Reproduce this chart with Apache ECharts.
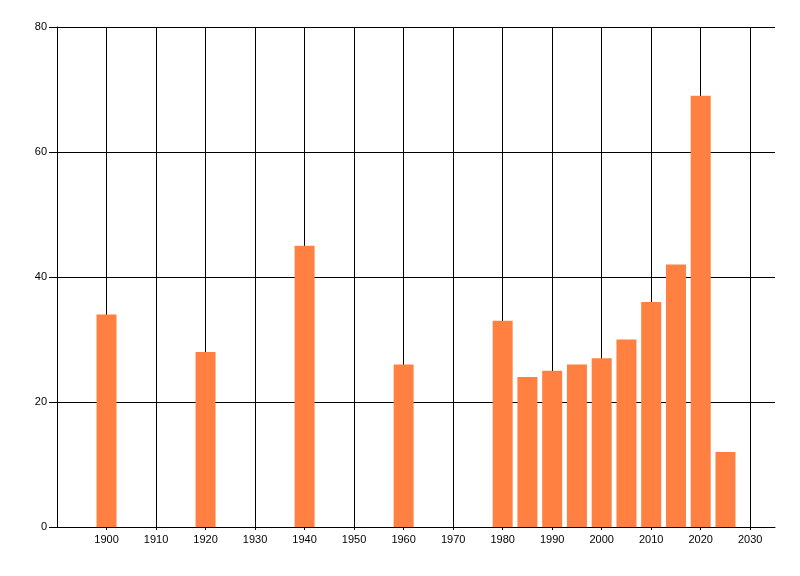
<!DOCTYPE html>
<html>
<head>
<meta charset="utf-8">
<script src="https://cdn.jsdelivr.net/npm/echarts@6/dist/echarts.min.js"></script>
<style>html,body{margin:0;padding:0;background:#fff}#c{width:800px;height:576px}</style>
</head>
<body>
<div id="c"></div>
<script>
var years = [1900, 1920, 1940, 1960, 1980, 1985, 1990, 1995, 2000, 2005, 2010, 2015, 2020, 2025];
var values = [34, 28, 45, 26, 33, 24, 25, 26, 27, 30, 36, 42, 69, 12];
var yTicks = [0, 20, 40, 60, 80];

var data = years.map(function (y, i) { return [y, values[i]]; });
var chart = echarts.init(document.getElementById('c'));
chart.setOption({
  animation: false,
  backgroundColor: '#fff',
  grid: { left: 57, right: 25, top: 27, bottom: 49, containLabel: false },
  xAxis: {
    type: 'value', min: 1890, max: 2035, interval: 10,
    axisLine: { show: true, lineStyle: { color: '#000', width: 1 } },
    axisTick: { show: true, length: 3, lineStyle: { color: '#000' } },
    axisLabel: {
      color: '#000', fontFamily: 'Liberation Sans', fontSize: 11, margin: 7,
      showMinLabel: false, showMaxLabel: false,
      formatter: function (v) { return (v === 1890 || v === 2035) ? '' : String(v); }
    },
    splitLine: { show: true, showMinLine: false, showMaxLine: false, lineStyle: { color: '#000', width: 1 } }
  },
  yAxis: {
    type: 'value', min: yTicks[0], max: yTicks[yTicks.length - 1], interval: 20,
    axisLine: { show: true, lineStyle: { color: '#000', width: 1 } },
    axisTick: { show: true, length: 8, lineStyle: { color: '#000' } },
    axisLabel: { color: '#000', fontFamily: 'Liberation Sans', fontSize: 11, margin: 10 },
    splitLine: { show: true, showMinLine: false, lineStyle: { color: '#000', width: 1 } }
  },
  series: [{
    type: 'bar',
    data: data,
    barWidth: 20,
    itemStyle: { color: '#FF8040' },
    z: 3
  }]
});
</script>
</body>
</html>
